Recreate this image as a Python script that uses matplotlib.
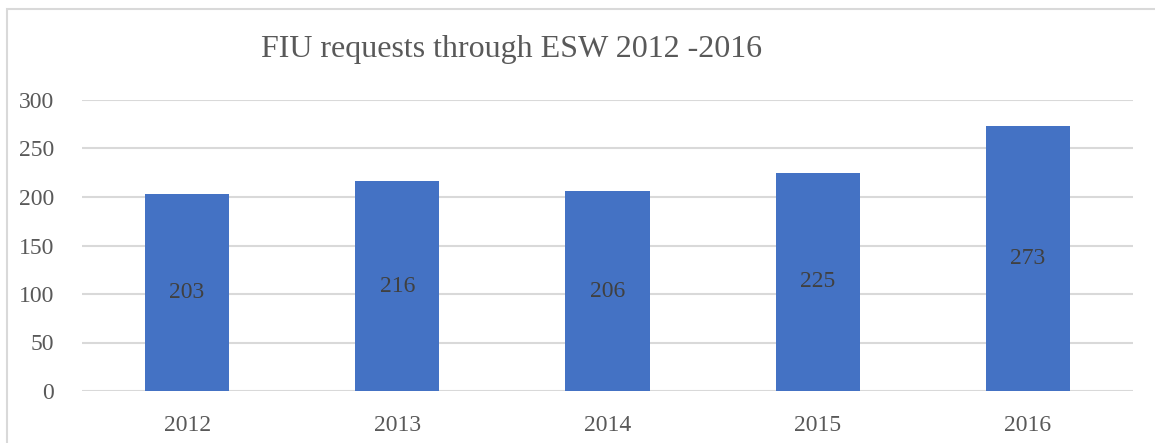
import matplotlib
matplotlib.use("Agg")
import matplotlib.pyplot as plt
from matplotlib.patches import Rectangle

years = ["2012", "2013", "2014", "2015", "2016"]
requests = [203, 216, 206, 225, 273]
yticks = [0, 50, 100, 150, 200, 250, 300]
title = "FIU requests through ESW 2012 -2016"

plt.rcParams['font.family'] = ['Liberation Serif', 'DejaVu Serif']

W, H = 1155, 443
fig = plt.figure(figsize=(W / 100, H / 100), dpi=100)
ax = fig.add_axes([82 / W, 1 - 391 / H, (1133 - 82) / W, (391 - 100) / H])

x = range(len(years))
bars = ax.bar(x, requests, width=0.4, color="#4472C4", zorder=3)
for xi, v in zip(x, requests):
    ax.text(xi, v / 2, str(v), ha="center", va="center", fontsize=17, color="#404040", zorder=4)

ax.set_xlim(-0.5, len(years) - 0.5)
ax.set_ylim(0, 300)
ax.set_yticks(yticks)
ax.set_xticks(list(x))
ax.set_xticklabels(years)
ax.tick_params(axis="both", length=0, labelsize=17, colors="#595959")
ax.tick_params(axis="y", pad=20)
ax.tick_params(axis="x", pad=17)
ax.grid(axis="y", color="#D9D9D9", linewidth=1.5, zorder=0)
for s in ax.spines.values():
    s.set_visible(False)

fig.text(512 / W, 1 - 50 / H, title, ha="center", va="center", fontsize=23, color="#595959")

fig.patches.append(Rectangle((7 / W, -0.1), 1.2, 1 - 9 / H + 0.1, transform=fig.transFigure,
                             fill=False, edgecolor="#D9D9D9", linewidth=1.5))

fig.savefig("out.png", dpi=100)
